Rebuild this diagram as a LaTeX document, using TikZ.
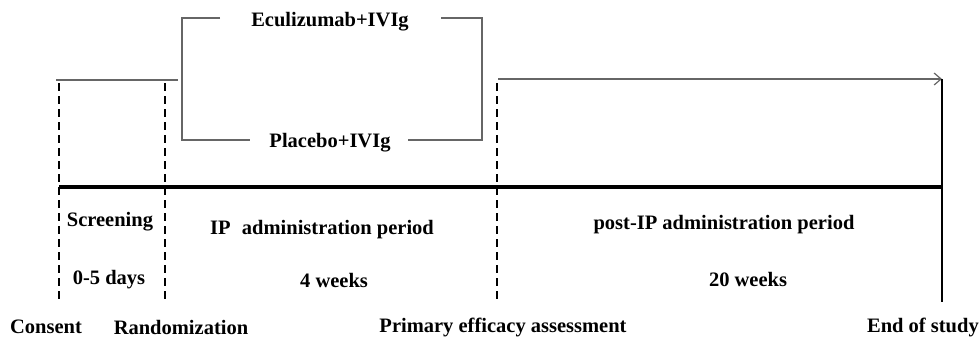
\documentclass[tikz,border=0pt]{standalone}
\usepackage{fontspec}
\setmainfont{Liberation Serif}
\usetikzlibrary{arrows.meta}
\begin{document}
\begin{tikzpicture}[x=1pt,y=-1pt,
  lbl/.style={font=\bfseries\fontsize{20.5}{23}\selectfont, inner sep=0pt, anchor=center},
  grayline/.style={draw=black!60, line width=1.3pt},
  dashline/.style={draw=black, line width=1.6pt, dash pattern=on 8pt off 5pt},
  mainline/.style={draw=black, line width=4pt},
  endline/.style={draw=black, line width=1.8pt}]
\useasboundingbox (0,0) rectangle (980,338);
% coordinates
\coordinate (c1t) at (59,83);  \coordinate (c1b) at (59,302);
\coordinate (c2t) at (165,83); \coordinate (c2b) at (165,302);
\coordinate (c3t) at (497,83); \coordinate (c3b) at (497,302);
\coordinate (c4t) at (942,79); \coordinate (c4b) at (942,302);
\coordinate (m1) at (59,187);  \coordinate (m2) at (942,187);
\coordinate (s1) at (56,80);   \coordinate (s2) at (178,80);
\coordinate (a1) at (498,79);
\coordinate (bl) at (182,18);  \coordinate (br) at (482,18);
\coordinate (bbl) at (182,140); \coordinate (bbr) at (482,140);
% texts
\node[lbl] (ecu) at (330,22) {Eculizumab+IVIg};
\node[lbl] (pla) at (330,143) {Placebo+IVIg};
\node[lbl] (scr) at (110,222) {Screening};
\node[lbl] (ip) at (322,230) {IP\hspace{0.55em}administration period};
\node[lbl] (d05) at (109,280) {0-5 days};
\node[lbl] (w4) at (334,280) {4 weeks};
\node[lbl] (post) at (724,225) {post-IP administration period};
\node[lbl] (w20) at (748,279) {20 weeks};
\node[lbl] (cons) at (46,327) {Consent};
\node[lbl] (rand) at (181,327) {Randomization};
\node[lbl] (prim) at (503,327) {Primary efficacy assessment};
\node[lbl, anchor=east] (end) at (979,327) {End of study};
% lines
\draw[grayline] (s1) -- (s2);
\draw[grayline] (220,18) -- (bl) -- (bbl) -- (250,140);
\draw[grayline] (441,18) -- (br) -- (bbr) -- (408,140);
\draw[grayline, -{Straight Barb[length=7pt,width=12pt,line width=1.2pt]}] (a1) -- (c4t);
\draw[dashline] (c1t) -- (c1b);
\draw[dashline] (c2t) -- (c2b);
\draw[dashline] (c3t) -- (c3b);
\draw[endline] (c4t) -- (c4b);
\draw[mainline] (m1) -- (m2);
\end{tikzpicture}
\end{document}
